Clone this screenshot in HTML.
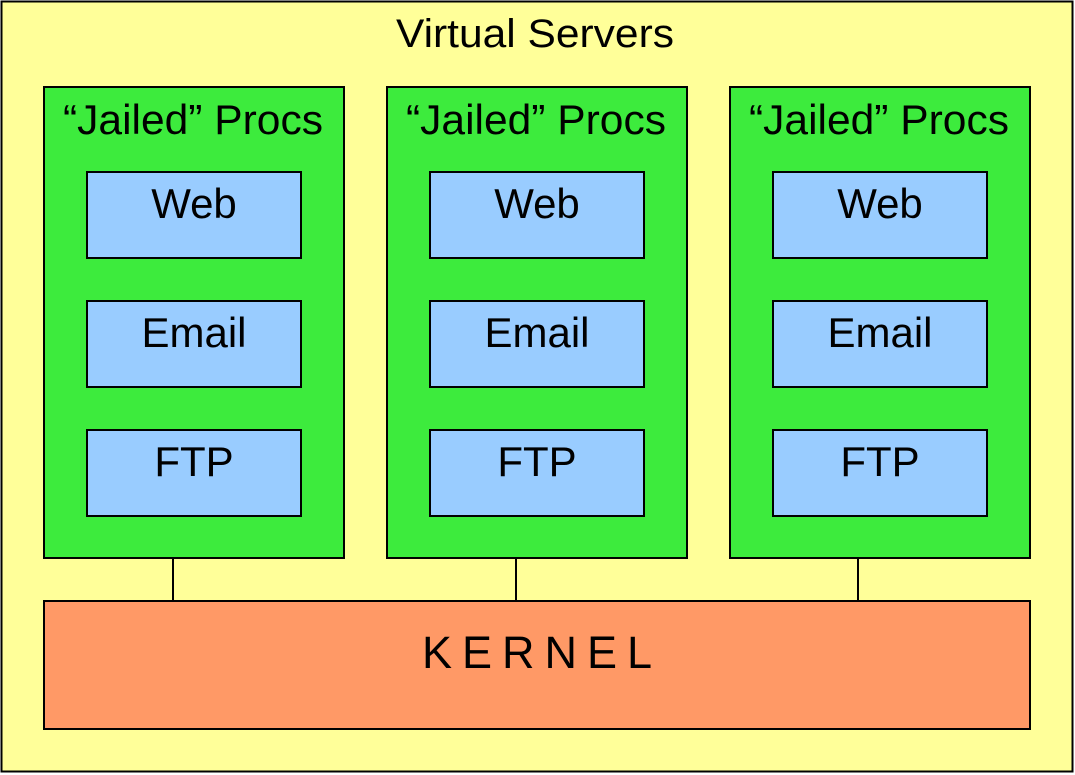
<!DOCTYPE html>
<html><head><style>
html,body{margin:0;padding:0;background:#fff;}
svg{display:block;}
text{font-family:"Liberation Sans",sans-serif;fill:#000;}
</style></head><body>
<svg width="1075" height="775" viewBox="0 0 1075 775" xmlns="http://www.w3.org/2000/svg">
<rect x="1.5" y="1.5" width="1071" height="770" fill="#ffff99" stroke="#000" stroke-width="2"/>
<text x="535" y="47" font-size="40" text-anchor="middle" textLength="278" lengthAdjust="spacingAndGlyphs">Virtual Servers</text>
<g stroke="#000" stroke-width="2">
<line x1="173" y1="558" x2="173" y2="601"/>
<line x1="516" y1="558" x2="516" y2="601"/>
<line x1="858" y1="558" x2="858" y2="601"/>
</g>
<g id="c1">
<rect x="44" y="87" width="300" height="471" fill="#3deb3d" stroke="#000" stroke-width="2"/>
<text x="193" y="134" font-size="42" text-anchor="middle" textLength="260" lengthAdjust="spacingAndGlyphs">“Jailed” Procs</text>
<rect x="87" y="172" width="214" height="86" fill="#99ccff" stroke="#000" stroke-width="2"/>
<text x="194" y="218" font-size="42" text-anchor="middle">Web</text>
<rect x="87" y="301" width="214" height="86" fill="#99ccff" stroke="#000" stroke-width="2"/>
<text x="194" y="347" font-size="42" text-anchor="middle">Email</text>
<rect x="87" y="430" width="214" height="86" fill="#99ccff" stroke="#000" stroke-width="2"/>
<text x="194" y="476" font-size="42" text-anchor="middle">FTP</text>
</g>
<use href="#c1" x="343"/>
<use href="#c1" x="686"/>
<rect x="44" y="601" width="986" height="128" fill="#ff9966" stroke="#000" stroke-width="2"/>
<text x="537" y="668" font-size="45" text-anchor="middle" textLength="230" lengthAdjust="spacing">KERNEL</text>
</svg>
</body></html>
